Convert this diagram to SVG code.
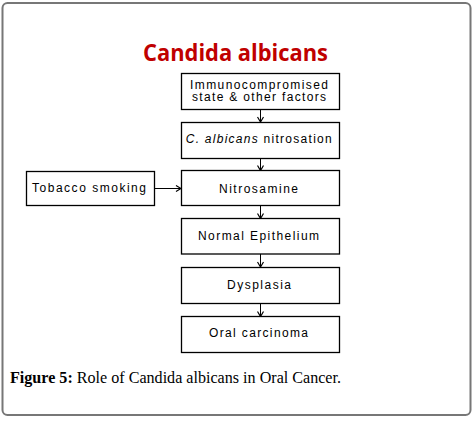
<svg xmlns="http://www.w3.org/2000/svg" width="475" height="423" viewBox="0 0 475 423">
<defs>
<style>
.box{fill:#fff;stroke:#000;stroke-width:1.3}
.t{font-family:"Liberation Sans",Arial,sans-serif;font-size:12px;fill:#000;text-anchor:middle}
.c{stroke:#000;stroke-width:1;fill:none}
</style>
<marker id="ah" viewBox="0 0 8 8" refX="7" refY="4" markerWidth="8" markerHeight="8" markerUnits="userSpaceOnUse" orient="auto">
<path d="M2,1 L7,4 L2,7" fill="none" stroke="#000" stroke-width="1.2"/>
</marker>
</defs>
<rect x="0" y="0" width="475" height="423" fill="#fff"/>
<rect x="2.5" y="3" width="468" height="412" rx="5" ry="5" fill="#fff" stroke="#777" stroke-width="2"/>
<text x="235.5" y="61" font-family="'Open Sans','Liberation Sans',Arial,sans-serif" font-weight="bold" font-size="23" fill="#c00000" text-anchor="middle" textLength="185" lengthAdjust="spacingAndGlyphs">Candida albicans</text>
<g id="connectors">
<line class="c" x1="260.5" y1="109.5" x2="260.5" y2="122" marker-end="url(#ah)"/>
<line class="c" x1="260.5" y1="158.5" x2="260.5" y2="170.5" marker-end="url(#ah)"/>
<line class="c" x1="260.5" y1="205.5" x2="260.5" y2="218.5" marker-end="url(#ah)"/>
<line class="c" x1="260.5" y1="254" x2="260.5" y2="267" marker-end="url(#ah)"/>
<line class="c" x1="260.5" y1="303.5" x2="260.5" y2="316.5" marker-end="url(#ah)"/>
<line class="c" x1="154.5" y1="188.5" x2="181" y2="188.5" stroke-width="1.4" marker-end="url(#ah)"/>
</g>
<g id="n1">
<rect class="box" x="181.5" y="73.5" width="158" height="36"/>
<text class="t" x="259" y="88.7" textLength="138" lengthAdjust="spacing">Immunocompromised</text>
<text class="t" x="259" y="101.3" textLength="134" lengthAdjust="spacing">state &amp; other factors</text>
</g>
<g id="n2">
<rect class="box" x="181.5" y="122.5" width="158" height="36"/>
<text class="t" x="258.7" y="143.3" textLength="146" lengthAdjust="spacing"><tspan font-style="italic">C. albicans</tspan> nitrosation</text>
</g>
<g id="n3">
<rect class="box" x="181.5" y="170.5" width="158" height="35"/>
<text class="t" x="258.5" y="192.7" textLength="79" lengthAdjust="spacing">Nitrosamine</text>
</g>
<g id="n_tobacco">
<rect class="box" x="26.5" y="171.5" width="128" height="34"/>
<text class="t" x="89" y="191.7" textLength="114" lengthAdjust="spacing">Tobacco smoking</text>
</g>
<g id="n4">
<rect class="box" x="181.5" y="218.5" width="158" height="35.5"/>
<text class="t" x="258.5" y="240" textLength="121" lengthAdjust="spacing">Normal Epithelium</text>
</g>
<g id="n5">
<rect class="box" x="181.5" y="267.5" width="158" height="36"/>
<text class="t" x="259" y="288.7" textLength="64" lengthAdjust="spacing">Dysplasia</text>
</g>
<g id="n6">
<rect class="box" x="181.5" y="316.5" width="158" height="36"/>
<text class="t" x="258.5" y="337.3" textLength="99" lengthAdjust="spacing">Oral carcinoma</text>
</g>
<text x="10" y="383.3" font-family="'Liberation Serif','Times New Roman',serif" font-size="16.5" fill="#000" textLength="331" lengthAdjust="spacingAndGlyphs"><tspan font-weight="bold">Figure 5:</tspan> Role of Candida albicans in Oral Cancer.</text>
</svg>
